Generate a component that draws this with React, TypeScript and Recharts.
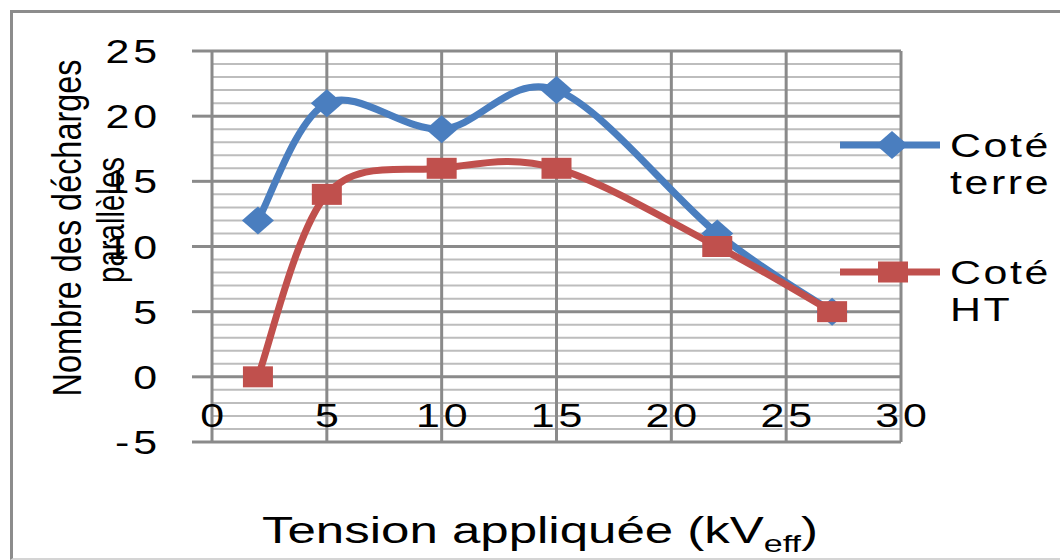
import React from 'react';
import { LineChart, Line, XAxis, YAxis, CartesianGrid, Legend, Label } from 'recharts';

// tension appliquée (kV eff)
const tension = [2, 5, 10, 15, 22, 27];
const coteTerre = [12, 21, 19, 22, 11, 5];
const coteHT = [0, 14, 16, 16, 10, 5];
const seriesOrder = ['terre', 'ht'];

const xTicks = [0, 5, 10, 15, 20, 25, 30];
const yTicks = [-5, 0, 5, 10, 15, 20, 25];
const yMinor = [-4, -3, -2, -1, 1, 2, 3, 4, 6, 7, 8, 9, 11, 12, 13, 14, 16, 17, 18, 19, 21, 22, 23, 24];

const BLUE = '#4a7ebf';
const RED = '#c0504d';
const FONT = '"Liberation Sans", Arial, sans-serif';

const data = tension.map((x, i) => ({ x, terre: coteTerre[i], ht: coteHT[i] }));

// Excel-like smoothed line (Catmull-Rom through the points)
const excelSmooth = (context: any) => {
  let pts: number[][] = [];
  return {
    areaStart() {},
    areaEnd() {},
    lineStart() {
      pts = [];
    },
    point(x: number, y: number) {
      pts.push([+x, +y]);
    },
    lineEnd() {
      const n = pts.length;
      if (!n) return;
      context.moveTo(pts[0][0], pts[0][1]);
      for (let i = 0; i < n - 1; i++) {
        const p0 = pts[i > 0 ? i - 1 : i];
        const p1 = pts[i];
        const p2 = pts[i + 1];
        const p3 = pts[i + 2 < n ? i + 2 : i + 1];
        context.bezierCurveTo(
          p1[0] + (p2[0] - p0[0]) / 6,
          p1[1] + (p2[1] - p0[1]) / 6,
          p2[0] - (p3[0] - p1[0]) / 6,
          p2[1] - (p3[1] - p1[1]) / 6,
          p2[0],
          p2[1]
        );
      }
    },
  };
};

function diamond(cx: number, cy: number, color: string, key?: string) {
  return (
    <polygon
      key={key}
      points={`${cx},${cy - 14} ${cx + 16},${cy} ${cx},${cy + 14} ${cx - 16},${cy}`}
      fill={color}
    />
  );
}

function square(cx: number, cy: number, color: string, key?: string) {
  return <rect key={key} x={cx - 15} y={cy - 10.5} width={30} height={21} fill={color} />;
}

const XTick = ({ x, y, payload }: any) => (
  <text
    transform={`translate(${x + 2},${y - 15}) scale(1.3,1)`}
    textAnchor="middle"
    fontSize={33}
    letterSpacing={3}
    fontFamily={FONT}
    fill="#000"
  >
    {payload.value}
  </text>
);

const YTick = ({ x, y, payload }: any) => (
  <text
    transform={`translate(${x},${y + 12}) scale(1.3,1)`}
    textAnchor="end"
    fontSize={33}
    letterSpacing={3}
    fontFamily={FONT}
    fill="#000"
  >
    {payload.value}
  </text>
);

const renderLegend = (props: any) => {
  const payload = [...(props.payload || [])].sort(
    (a: any, b: any) => seriesOrder.indexOf(a.dataKey) - seriesOrder.indexOf(b.dataKey)
  );
  return (
    <svg width={230} height={240}>
      {payload.map((entry: any, i: number) => {
        const cy = 45 + i * 127;
        const words = String(entry.value).split(' ');
        return (
          <g key={entry.value}>
            <line x1={10} x2={110} y1={cy} y2={cy} stroke={entry.color} strokeWidth={7} />
            {entry.type === 'diamond' ? diamond(62, cy, entry.color) : square(63, cy, entry.color)}
            {words.map((w, j) => (
              <text
                key={w}
                transform={`translate(120,${cy + 12 + j * 37}) scale(1.3,1)`}
                fontSize={33}
                letterSpacing={2}
                fontFamily={FONT}
                fill="#000"
              >
                {w}
              </text>
            ))}
          </g>
        );
      })}
    </svg>
  );
};

export default function App() {
  return (
    <div
      style={{
        position: 'fixed',
        left: 0,
        top: 0,
        width: 1060,
        height: 560,
        overflow: 'hidden',
        background: '#fff',
      }}
    >
      <div
        style={{
          position: 'absolute',
          left: 10,
          top: 10,
          width: 1080,
          height: 545,
          borderLeft: '3px solid #8c8c8c',
          borderTop: '3px solid #8c8c8c',
          borderBottom: '2px solid #d4d4d4',
        }}
      />
      <div style={{ position: 'absolute', left: 0, top: 0 }}>
        <LineChart
          width={1060}
          height={560}
          data={data}
          margin={{ top: 51, right: 159, bottom: 88, left: 12 }}
        >
          <CartesianGrid
            vertical={false}
            horizontalValues={yMinor}
            stroke="#bdbdbd"
            strokeWidth={2}
          />
          <CartesianGrid stroke="#8a8a8a" strokeWidth={3} />
          <XAxis
            dataKey="x"
            type="number"
            domain={[0, 30]}
            ticks={xTicks}
            interval={0}
            height={30}
            axisLine={false}
            tickLine={false}
            tickSize={0}
            tickMargin={0}
            tick={<XTick />}
          >
            <Label
              content={() => (
                <text
                  x={540}
                  y={543}
                  textAnchor="middle"
                  fontSize={36}
                  fontFamily={FONT}
                  fill="#000"
                  textLength={556}
                  lengthAdjust="spacingAndGlyphs"
                >
                  Tension appliquée (kV
                  <tspan fontSize={24} dy={9}>
                    eff
                  </tspan>
                  <tspan fontSize={36} dy={-9}>
                    )
                  </tspan>
                </text>
              )}
            />
          </XAxis>
          <YAxis
            type="number"
            domain={[-5, 25]}
            ticks={yTicks}
            interval={0}
            width={200}
            axisLine={false}
            tickLine={{ stroke: '#8a8a8a', strokeWidth: 3 }}
            tickSize={20}
            tickMargin={31}
            tick={<YTick />}
          >
            <Label
              content={() => (
                <g fontFamily={FONT} fill="#000">
                  <text
                    transform="translate(81,228) scale(1.25,1) rotate(-90)"
                    textAnchor="middle"
                    fontSize={32}
                    textLength={337}
                    lengthAdjust="spacingAndGlyphs"
                  >
                    Nombre des décharges
                  </text>
                  <text
                    transform="translate(124,220) scale(1.25,1) rotate(-90)"
                    textAnchor="middle"
                    fontSize={31}
                    textLength={126}
                    lengthAdjust="spacingAndGlyphs"
                  >
                    parallèles
                  </text>
                </g>
              )}
            />
          </YAxis>
          <Legend
            layout="vertical"
            align="center"
            verticalAlign="middle"
            content={renderLegend}
            wrapperStyle={{ left: 830, top: 100, width: 230, height: 240 }}
          />
          <Line
            name="Coté terre"
            dataKey="terre"
            type={excelSmooth as any}
            stroke={BLUE}
            strokeWidth={7}
            legendType="diamond"
            dot={(p: any) => diamond(p.cx, p.cy, BLUE, `t-${p.index}`)}
            activeDot={false}
            isAnimationActive={false}
          />
          <Line
            name="Coté HT"
            dataKey="ht"
            type={excelSmooth as any}
            stroke={RED}
            strokeWidth={7}
            legendType="square"
            dot={(p: any) => square(p.cx, p.cy, RED, `h-${p.index}`)}
            activeDot={false}
            isAnimationActive={false}
          />
        </LineChart>
      </div>
    </div>
  );
}
